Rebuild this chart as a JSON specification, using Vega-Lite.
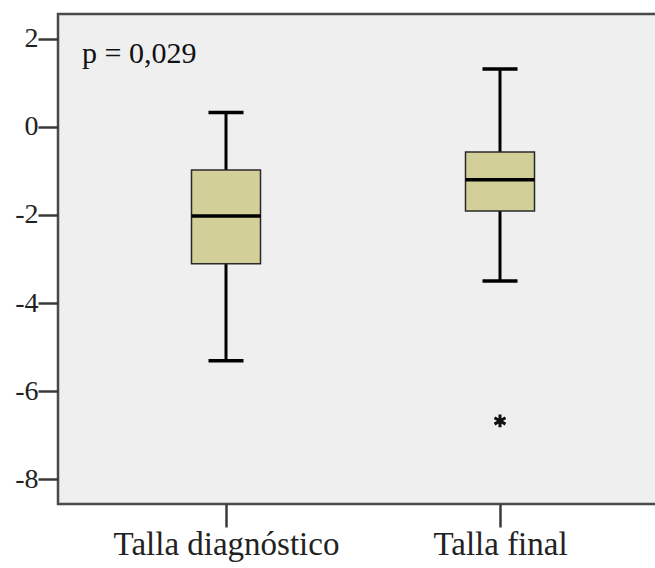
{
  "$schema": "https://vega.github.io/schema/vega-lite/v6.json",
  "autosize": "none",
  "padding": {"left": 58, "top": 14, "right": 0, "bottom": 64},
  "width": 600,
  "height": 490,
  "background": "white",
  "config": {
    "view": {"fill": "#efefef", "stroke": "#4a4a4a", "strokeWidth": 2.5},
    "axis": {"grid": false, "domain": false, "title": null, "labelColor": "#222", "tickColor": "#3a3a3a", "tickWidth": 2.5, "labelFont": "Liberation Serif"}
  },
  "datasets": {
    "boxes": [
      {"g": "Talla diagnóstico", "lo": -5.31, "q1": -3.11, "med": -2.02, "q3": -0.98, "hi": 0.33},
      {"g": "Talla final", "lo": -3.5, "q1": -1.91, "med": -1.2, "q3": -0.57, "hi": 1.32}
    ],
    "outliers": [
      {"g": "Talla final", "v": -6.68}
    ],
    "note": [
      {"g": "Talla diagnóstico", "v": 1.45, "label": "p = 0,029"}
    ]
  },
  "encoding": {
    "x": {
      "field": "g", "type": "nominal",
      "scale": {"type": "point", "domain": ["Talla diagnóstico", "Talla final"], "range": [168, 442], "padding": 0},
      "axis": {"labelAngle": 0, "labelFontSize": 33, "labelLimit": 0, "tickSize": 23, "labelPadding": 1, "labelColor": "#222"}
    }
  },
  "layer": [
    {
      "data": {"name": "boxes"},
      "mark": {"type": "rule", "color": "black", "strokeWidth": 3},
      "encoding": {
        "y": {"field": "lo", "type": "quantitative", "scale": {"domain": [-8.568, 2.568], "nice": false, "zero": false},
              "axis": {"values": [-8, -6, -4, -2, 0, 2], "labelExpr": "replace(datum.label, '−', '-')", "labelFontSize": 28, "tickSize": 20, "labelPadding": 0}},
        "y2": {"field": "hi"}
      }
    },
    {
      "data": {"name": "boxes"},
      "mark": {"type": "bar", "size": 69, "fill": "#d3cf98", "stroke": "#2a2a2a", "strokeWidth": 1.5, "opacity": 1},
      "encoding": {
        "y": {"field": "q1", "type": "quantitative"},
        "y2": {"field": "q3"}
      }
    },
    {
      "data": {"name": "boxes"},
      "mark": {"type": "tick", "size": 69, "thickness": 3.5, "color": "black", "opacity": 1},
      "encoding": {"y": {"field": "med", "type": "quantitative"}}
    },
    {
      "data": {"name": "boxes"},
      "mark": {"type": "tick", "size": 35, "thickness": 3.5, "color": "black", "opacity": 1},
      "encoding": {"y": {"field": "lo", "type": "quantitative"}}
    },
    {
      "data": {"name": "boxes"},
      "mark": {"type": "tick", "size": 35, "thickness": 3.5, "color": "black", "opacity": 1},
      "encoding": {"y": {"field": "hi", "type": "quantitative"}}
    },
    {
      "data": {"name": "outliers"},
      "mark": {"type": "point", "shape": "M0,-1L0,1M-0.87,-0.5L0.87,0.5M-0.87,0.5L0.87,-0.5", "size": 160, "stroke": "#111", "strokeWidth": 3, "filled": false, "opacity": 1},
      "encoding": {"y": {"field": "v", "type": "quantitative"}}
    },
    {
      "data": {"name": "note"},
      "mark": {"type": "text", "align": "left", "baseline": "alphabetic", "dx": -144, "font": "Liberation Serif", "fontSize": 30, "color": "#111"},
      "encoding": {
        "y": {"field": "v", "type": "quantitative"},
        "text": {"field": "label"}
      }
    }
  ]
}
